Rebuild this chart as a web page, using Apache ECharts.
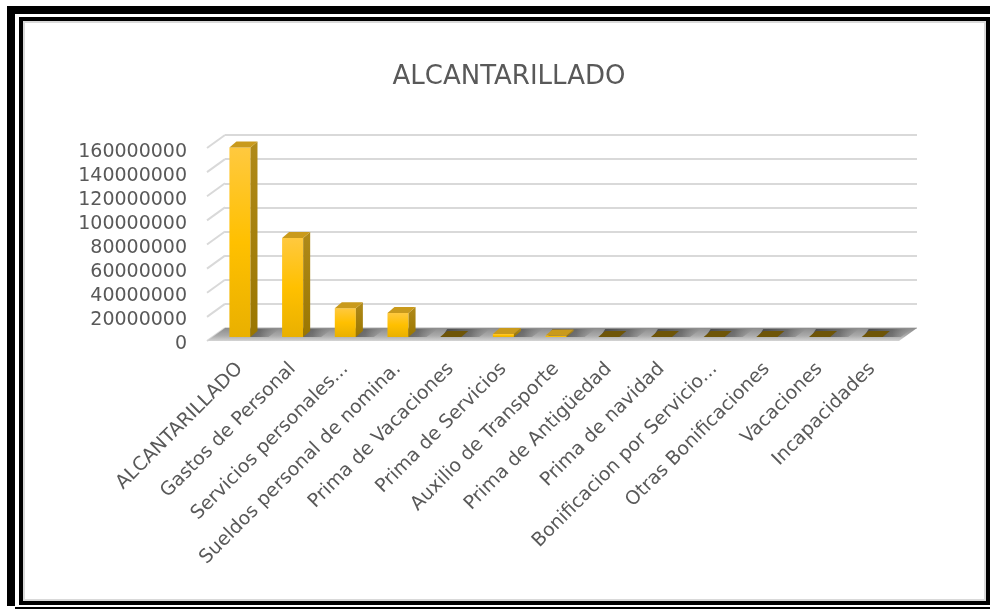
<!DOCTYPE html>
<html>
<head>
<meta charset="utf-8">
<script src="https://cdn.jsdelivr.net/npm/echarts@6/dist/echarts.min.js"></script>
<style>
  html, body { margin: 0; padding: 0; background: #fff; }
  body { width: 990px; height: 609px; position: relative; overflow: hidden; }
  .blk { position: absolute; background: #000; }
  #inner { position: absolute; left: 19px; top: 17px; width: 971px; height: 588px; border: 4px solid #000; box-sizing: border-box; }
  #inner2 { position: absolute; left: 0; top: 0; right: 0; bottom: 0; border: 2px solid #d9d9d9; }
  #chart { position: absolute; left: 0; top: 0; width: 990px; height: 609px; }
</style>
</head>
<body>
<div class="blk" style="left:7px;top:6px;width:983px;height:8px;"></div>
<div class="blk" style="left:7px;top:6px;width:8px;height:600px;"></div>
<div class="blk" style="left:15px;top:607px;width:975px;height:2px;"></div>
<div id="inner"><div id="inner2"></div></div>
<div id="chart"></div>
<script>
const titleText = 'ALCANTARILLADO';
const categories = [
  'ALCANTARILLADO', 'Gastos de Personal', 'Servicios personales...', 'Sueldos personal de nomina.',
  'Prima de Vacaciones', 'Prima de Servicios', 'Auxilio de Transporte', 'Prima de Antigüedad',
  'Prima de navidad', 'Bonificacion por Servicio...', 'Otras Bonificaciones', 'Vacaciones', 'Incapacidades'
];
const values = [158000000, 82500000, 24000000, 20000000, 0, 2600000, 1200000, 0, 0, 0, 0, 0, 0];
const yTicks = [0, 20000000, 40000000, 60000000, 80000000, 100000000, 120000000, 140000000, 160000000];
const yMax = 160000000;
const yStep = 20000000;

const FONT = 'DejaVu Sans';
const TXT = '#595959';
const DX = 7, DY = -6;          // bar depth offset
const WX = -18, WY = 13;        // wall / floor depth (back -> front)

const chart = echarts.init(document.getElementById('chart'), null, { renderer: 'canvas' });

function barItem(params, api) {
  const idx = api.value(0);
  const v = api.value(1);
  const base = api.coord([idx, 0]);
  const top = api.coord([idx, v]);
  const bw = api.size([1, 0])[0] * 0.4;
  const x0 = base[0] - bw / 2, x1 = base[0] + bw / 2;
  const y0 = base[1], y1 = top[1];
  const children = [];
  children.push({
    type: 'polygon',
    shape: { points: [[x0 + 2, y0], [x1 + 18, y0], [x1 + 18 + DX + 4, y0 + DY - 2], [x0 + DX, y0 + DY - 2]] },
    style: { fill: new echarts.graphic.LinearGradient(0, 0, 1, 0, [
      { offset: 0, color: 'rgba(60,60,60,0.9)' },
      { offset: 0.6, color: 'rgba(80,80,80,0.6)' },
      { offset: 1, color: 'rgba(110,110,110,0)' }
    ]) }
  });
  if (y0 - y1 > 0.5) {
    children.push({
      type: 'rect',
      shape: { x: x0, y: y1, width: bw, height: y0 - y1 },
      style: { fill: new echarts.graphic.LinearGradient(0, 0, 0, 1, [
        { offset: 0, color: '#ffc93f' },
        { offset: 0.5, color: '#ffc000' },
        { offset: 1, color: '#e9b000' }
      ]) }
    });
    children.push({
      type: 'polygon',
      shape: { points: [[x1, y1], [x1 + DX, y1 + DY], [x1 + DX, y0 + DY], [x1, y0]] },
      style: { fill: new echarts.graphic.LinearGradient(0, 0, 0, 1, [
        { offset: 0, color: '#b08a1a' },
        { offset: 1, color: '#9a7600' }
      ]) }
    });
  }
  children.push({
    type: 'polygon',
    shape: { points: [[x0, y1], [x0 + DX, y1 + DY], [x1 + DX, y1 + DY], [x1, y1]] },
    style: { fill: v > 0 ? '#c99a1c' : '#6e5508' }
  });
  return { type: 'group', children };
}

function floorItem(params, api) {
  const a = api.coord([0, 0]);
  const b = api.coord([1, 0]);
  return {
    type: 'group',
    children: [{
      type: 'polygon',
      shape: { points: [a, b, [b[0] + WX, b[1] + WY], [a[0] + WX, a[1] + WY]] },
      style: { fill: new echarts.graphic.LinearGradient(0, 0, 0, 1, [
        { offset: 0, color: '#8c8c8c' },
        { offset: 0.6, color: '#ababab' },
        { offset: 1, color: '#d4d4d4' }
      ]) }
    }]
  };
}

function wallItem(params, api) {
  const v = api.value(1);
  const p = api.coord([0, v]);
  return {
    type: 'line',
    shape: { x1: p[0], y1: p[1], x2: p[0] + WX, y2: p[1] + WY },
    style: { stroke: '#d9d9d9', lineWidth: 2 }
  };
}

const option = {
  animation: false,
  title: {
    text: titleText,
    left: 504, top: 59, textAlign: 'center',
    textStyle: { fontFamily: FONT, fontSize: 26, fontWeight: 'normal', color: TXT }
  },
  grid: [
    { left: 225, right: 73, top: 135, bottom: 281 },
    { left: 213.6, right: 91.4, top: 145, bottom: 272 },
    { left: 207, right: 92, top: 152, bottom: 265 }
  ],
  xAxis: [
    { gridIndex: 0, type: 'value', min: 0, max: 1, show: false },
    { gridIndex: 1, type: 'category', data: categories,
      axisLine: { show: false }, axisTick: { show: false },
      axisLabel: { interval: 0, rotate: 45, margin: 29, fontFamily: FONT, fontSize: 19, color: TXT } },
    { gridIndex: 2, type: 'value', min: 0, max: 1, show: false }
  ],
  yAxis: [
    { gridIndex: 0, type: 'value', min: 0, max: yMax, interval: yStep,
      axisLine: { show: false }, axisTick: { show: false }, axisLabel: { show: false },
      splitLine: { show: true, lineStyle: { color: '#d9d9d9', width: 2 } } },
    { gridIndex: 1, type: 'value', min: 0, max: yMax, interval: yStep, show: false, splitLine: { show: false } },
    { gridIndex: 2, type: 'value', min: 0, max: yMax, interval: yStep,
      axisLine: { show: false }, axisTick: { show: false }, splitLine: { show: false },
      axisLabel: { margin: 20, fontFamily: FONT, fontSize: 19, color: TXT, formatter: v => String(v) } }
  ],
  series: [
    { type: 'custom', xAxisIndex: 0, yAxisIndex: 0, renderItem: wallItem, z: 1,
      data: yTicks.map(t => [0, t]), silent: true },
    { type: 'custom', xAxisIndex: 0, yAxisIndex: 0, renderItem: floorItem, z: 2,
      data: [[0, 0]], silent: true },
    { type: 'custom', xAxisIndex: 1, yAxisIndex: 1, renderItem: barItem, z: 3,
      data: values.map((v, i) => [i, v]) }
  ]
};
chart.setOption(option);
</script>
</body>
</html>
